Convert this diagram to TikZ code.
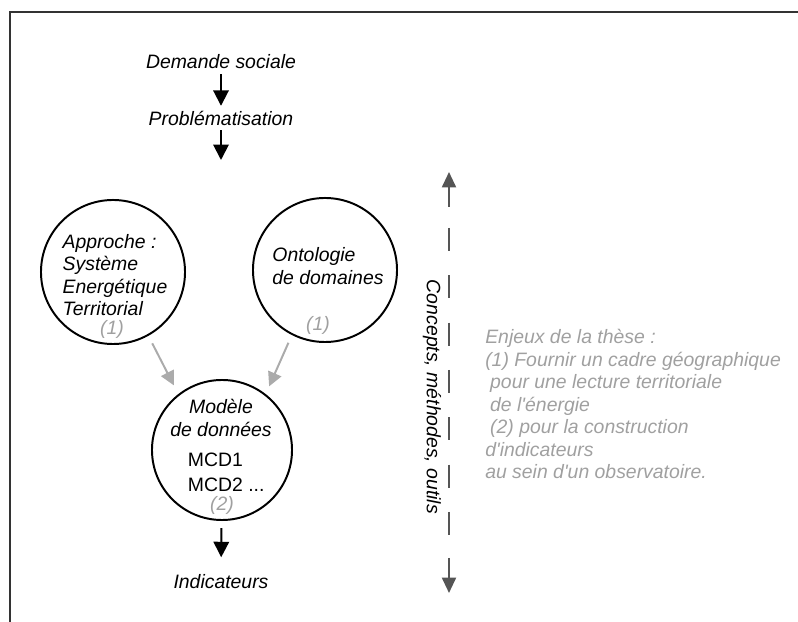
\documentclass[tikz,border=0pt]{standalone}
\usepackage{fontspec}
\setmainfont{Liberation Sans}[Ligatures=TeXOff]
\usetikzlibrary{arrows.meta}

\definecolor{framegray}{HTML}{333333}
\definecolor{axisgray}{HTML}{555555}
\definecolor{notegray}{HTML}{A0A0A0}
\definecolor{arrowgray}{HTML}{ABABAB}

\tikzset{
  txt/.style={font=\fontsize{13.8}{16}\selectfont\itshape},
  upright/.style={font=\fontsize{13.8}{18}\selectfont},
  note/.style={txt, text=notegray},
  bubble/.style={circle, draw, line width=1.4pt, inner sep=0pt},
  flow/.style={line width=1.4pt, -{Triangle[width=11pt,length=11pt]}},
  grayflow/.style={arrowgray, line width=1.4pt, -{Triangle[width=10pt,length=10pt]}},
  axisline/.style={axisgray, line width=1.5pt}
}

\begin{document}
\begin{tikzpicture}[x=0.025cm, y=-0.025cm]
\useasboundingbox (0,0) rectangle (798,622);
%frame
\draw[framegray, line width=1.4pt] (10,622) -- (10,12) -- (798,12);
%top of the chain
\node[txt] (demande) at (221,62) {Demande sociale};
\node[txt] (probl) at (221,118) {Problématisation};
\coordinate (problend) at (221,160);
\draw[flow] (demande) -- (probl);
\draw[flow] (probl) -- (problend);
%approach and ontology
\node[bubble, minimum size=3.6cm] (approche) at (113,272) {};
\node[txt, align=left] (approchetxt) at (115,275)
     {Approche :\\Système\\Energétique\\Territorial};
\node[note] (approchenum) at (112,329) {(1)};
\node[bubble, minimum size=3.6cm] (ontologie) at (325,270) {};
\node[txt, align=left] (ontologietxt) at (328,266) {Ontologie\\de domaines};
\node[note] (ontologienum) at (318,325) {(1)};
%data model
\node[bubble, minimum size=3.5cm] (modele) at (222,450) {};
\node[txt, align=center] (modeletxt) at (221,418) {Modèle\\de données};
\node[upright, align=left, anchor=west] (mcd) at (183,472) {MCD1\\MCD2\ ...};
\node[note] (modelenum) at (222,505) {(2)};
\draw[grayflow, shorten <=6pt, shorten >=7pt] (approche.-61) -- (modele.128);
\draw[grayflow, shorten <=6pt, shorten >=6pt] (ontologie.-117) -- (modele.52);
%indicators
\node[txt] (indic) at (221,582) {Indicateurs};
\draw[flow, shorten <=5pt, shorten >=9pt] (modele) -- (indic);
%axis
\coordinate (axistop) at (449,172);
\coordinate (axisbot) at (449,593);
\draw[axisline, -{Triangle[width=10pt,length=11pt]}] (449,207) -- (axistop);
\foreach \k in {0,...,6}
{
  \draw[axisline] (449,228+47.33*\k) -- ++(0,23);
}
\draw[axisline, -{Triangle[width=10pt,length=11pt]}] (449,558) -- (axisbot);
\node[txt, rotate=-90] (axislabel) at (432,397) {Concepts, méthodes, outils};
%stakes
\node[note, align=left, anchor=north west, inner sep=0pt] (enjeux) at (485,329)
     {Enjeux de la thèse :\\
      (1) Fournir un cadre géographique\\
      \hspace*{3.5pt}pour une lecture territoriale\\
      \hspace*{3.5pt}de l'énergie\\
      \hspace*{3.5pt}(2) pour la construction\\
      d'indicateurs\\
      au sein d'un observatoire.};
\end{tikzpicture}
\end{document}
